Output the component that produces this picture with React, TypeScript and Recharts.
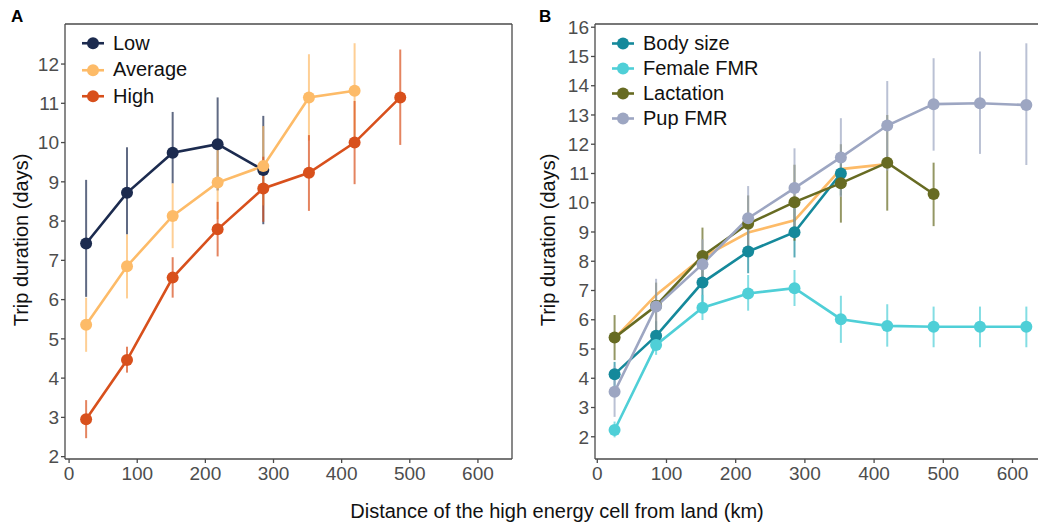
import { LineChart, Line, XAxis, YAxis, ErrorBar, ReferenceLine } from "recharts";

// distance of the high energy cell from land (km)
const distKm = [25, 85, 152, 218, 285, 352, 419, 486, 553, 620];
const xTicks = [0, 100, 200, 300, 400, 500, 600];
const yTicksA = [2, 3, 4, 5, 6, 7, 8, 9, 10, 11, 12];
const yTicksB = [2, 3, 4, 5, 6, 7, 8, 9, 10, 11, 12, 13, 14, 15, 16];

// panel A
const lowMean = [7.43, 8.72, 9.74, 9.96, 9.3];
const lowLo = [6.07, 7.66, 8.96, 8.78, 7.92];
const lowHi = [9.05, 9.88, 10.78, 11.15, 10.68];

const avgMean = [5.36, 6.85, 8.13, 8.98, 9.4, 11.15, 11.32];
const avgLo = [4.67, 6.03, 7.31, 8.05, 8.4, 10.05, 10.1];
const avgHi = [6.05, 7.66, 8.96, 9.92, 10.42, 12.25, 12.53];

const highMean = [2.95, 4.46, 6.56, 7.79, 8.83, 9.23, 10.0, 11.15];
const highLo = [2.47, 4.14, 6.05, 7.1, 7.98, 8.26, 8.94, 9.94];
const highHi = [3.44, 4.8, 7.08, 8.49, 9.64, 10.19, 11.06, 12.37];

// panel B
const bodyMean = [4.14, 5.45, 7.27, 8.33, 8.99, 11.0];
const bodyLo = [3.72, 4.95, 6.55, 7.59, 8.13, 10.25];
const bodyHi = [4.56, 5.95, 8.0, 9.07, 9.85, 11.75];

const femaleMean = [2.23, 5.14, 6.41, 6.9, 7.08, 6.02, 5.79, 5.76, 5.76, 5.76];
const femaleLo = [1.98, 4.8, 5.99, 6.31, 6.47, 5.21, 5.08, 5.06, 5.06, 5.06];
const femaleHi = [2.52, 5.48, 6.85, 7.53, 7.7, 6.82, 6.53, 6.45, 6.45, 6.45];

const lactMean = [5.39, 6.48, 8.18, 9.28, 10.02, 10.67, 11.37, 10.3];
const lactLo = [4.62, 5.5, 7.2, 8.3, 8.7, 9.32, 9.73, 9.2];
const lactHi = [6.16, 7.27, 9.15, 10.25, 11.3, 12.0, 13.0, 11.37];

const pupMean = [3.54, 6.45, 7.9, 9.47, 10.5, 11.55, 12.64, 13.37, 13.4, 13.34];
const pupLo = [2.68, 5.45, 7.05, 8.4, 9.15, 10.2, 11.1, 11.78, 11.67, 11.29];
const pupHi = [4.4, 7.4, 8.75, 10.57, 11.86, 12.89, 14.16, 14.94, 15.17, 15.45];

const colors = {
    low: "#1c2b4f",
    avg: "#fdbb68",
    high: "#d8501c",
    body: "#15899b",
    female: "#4fcfd7",
    lact: "#676b22",
    pup: "#9da6c2",
};

const legendA = [
    { name: "Low", color: colors.low },
    { name: "Average", color: colors.avg },
    { name: "High", color: colors.high },
];
const legendB = [
    { name: "Body size", color: colors.body },
    { name: "Female FMR", color: colors.female },
    { name: "Lactation", color: colors.lact },
    { name: "Pup FMR", color: colors.pup },
];

const FONT = "'Liberation Sans', Arial, Helvetica, sans-serif";
const AXIS = "#4a4a4a";

const build = (mean: number[], lo: number[], hi: number[]) =>
    mean.map((v, i) => ({ x: distKm[i], y: v, err: [v - lo[i], hi[i] - v] }));

const tickStyle = { fill: "#4d4d4d", fontSize: 19, fontFamily: FONT };

function KeyBox({ items, rowH, left, top }: { items: { name: string; color: string }[]; rowH: number; left: number; top: number }) {
    return (
        <div style={{ position: "absolute", left, top, fontFamily: FONT, fontSize: 20, color: "#111" }}>
            {items.map((it) => (
                <div key={it.name} style={{ display: "flex", alignItems: "center", height: rowH }}>
                    <svg width={22} height={rowH} style={{ marginRight: 9 }}>
                        <line x1={0} x2={22} y1={rowH / 2} y2={rowH / 2} stroke={it.color} strokeWidth={2.6} />
                        <circle cx={11} cy={rowH / 2} r={6} fill={it.color} />
                    </svg>
                    <span>{it.name}</span>
                </div>
            ))}
        </div>
    );
}

const renderLine = (key: string, data: any[], color: string, withDots = true) => (
    <Line
        key={key}
        data={data}
        dataKey="y"
        name={key}
        type="linear"
        stroke={color}
        strokeWidth={2.6}
        dot={withDots ? { r: 6, fill: color, stroke: color, strokeWidth: 0 } : false}
        activeDot={false}
        isAnimationActive={false}
    >
        {withDots && <ErrorBar dataKey="err" width={0} stroke={color} strokeWidth={2} strokeOpacity={0.7} direction="y" />}
    </Line>
);

export default function App() {
    const lowData = build(lowMean, lowLo, lowHi);
    const avgData = build(avgMean, avgLo, avgHi);
    const highData = build(highMean, highLo, highHi);
    const bodyData = build(bodyMean, bodyLo, bodyHi);
    const femaleData = build(femaleMean, femaleLo, femaleHi);
    const lactData = build(lactMean, lactLo, lactHi);
    const pupData = build(pupMean, pupLo, pupHi);

    const xDomA: [number, number] = [-6, 650];
    const xDomB: [number, number] = [-3.3, 638.3];
    const domainA: [number, number] = [1.94, 13.02];
    const domainB: [number, number] = [1.24, 16.11];

    return (
        <div style={{ position: "absolute", left: 0, top: 0, width: 1038, height: 525, overflow: "hidden", background: "#fff", fontFamily: FONT }}>
            <div style={{ position: "absolute", left: 11, top: 7, fontSize: 17, fontWeight: 700 }}>A</div>
            <div style={{ position: "absolute", left: 539, top: 7, fontSize: 17, fontWeight: 700 }}>B</div>

            <div style={{ position: "absolute", left: 0, top: 0 }}>
                <LineChart width={530} height={525} margin={{ top: 24, right: 18, bottom: 36, left: 20 }}>
                    <XAxis dataKey="x" type="number" domain={xDomA} allowDataOverflow ticks={xTicks} interval={0}
                        stroke={AXIS} strokeWidth={1.3} tickSize={4} tickMargin={4} tick={tickStyle} height={30} />
                    <YAxis type="number" domain={domainA} allowDataOverflow ticks={yTicksA} interval={0}
                        stroke={AXIS} strokeWidth={1.3} tickSize={4} tickMargin={2} tick={tickStyle} width={45} />
                    <ReferenceLine y={domainA[1]} stroke={AXIS} strokeWidth={1.3} ifOverflow="visible" />
                    <ReferenceLine x={xDomA[1]} stroke={AXIS} strokeWidth={1.3} ifOverflow="visible" />
                    {renderLine("Low", lowData, colors.low)}
                    {renderLine("Average", avgData, colors.avg)}
                    {renderLine("High", highData, colors.high)}
                </LineChart>
            </div>

            <div style={{ position: "absolute", left: 520, top: 0 }}>
                <LineChart width={520} height={525} margin={{ top: 24, right: 1, bottom: 36, left: 30 }}>
                    <XAxis dataKey="x" type="number" domain={xDomB} allowDataOverflow ticks={xTicks} interval={0}
                        stroke={AXIS} strokeWidth={1.3} tickSize={4} tickMargin={4} tick={tickStyle} height={30} />
                    <YAxis type="number" domain={domainB} allowDataOverflow ticks={yTicksB} interval={0}
                        stroke={AXIS} strokeWidth={1.3} tickSize={4} tickMargin={2} tick={tickStyle} width={45} />
                    <ReferenceLine y={domainB[1]} stroke={AXIS} strokeWidth={1.3} ifOverflow="visible" />
                    {renderLine("Average ref", avgData, colors.avg, false)}
                    {renderLine("Body size", bodyData, colors.body)}
                    {renderLine("Female FMR", femaleData, colors.female)}
                    {renderLine("Lactation", lactData, colors.lact)}
                    {renderLine("Pup FMR", pupData, colors.pup)}
                </LineChart>
            </div>

            <KeyBox items={legendA} rowH={26.5} left={82} top={30} />
            <KeyBox items={legendB} rowH={25} left={612} top={30.5} />

            <div style={{ position: "absolute", left: 21, top: 240, transform: "translate(-50%, -50%) rotate(-90deg)", fontSize: 20, whiteSpace: "nowrap", color: "#111" }}>
                Trip duration (days)
            </div>
            <div style={{ position: "absolute", left: 548, top: 240, transform: "translate(-50%, -50%) rotate(-90deg)", fontSize: 20, whiteSpace: "nowrap", color: "#111" }}>
                Trip duration (days)
            </div>
            <div style={{ position: "absolute", left: 557, top: 511, transform: "translate(-50%, -50%)", fontSize: 20, whiteSpace: "nowrap", color: "#111" }}>
                Distance of the high energy cell from land (km)
            </div>
        </div>
    );
}
